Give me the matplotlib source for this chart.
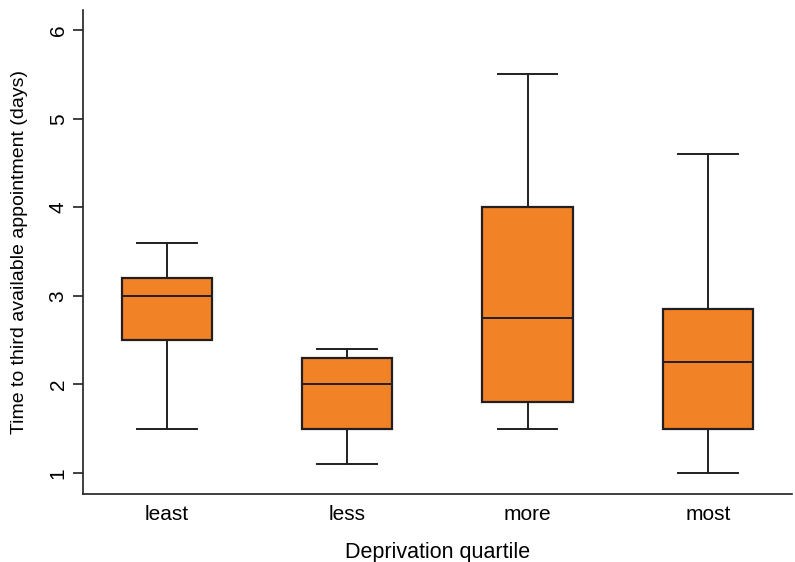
import matplotlib
matplotlib.use("Agg")
import matplotlib.pyplot as plt

plt.rcParams['font.family'] = ['Liberation Sans', 'DejaVu Sans']

categories = ["least", "less", "more", "most"]
whislo = [1.5, 1.1, 1.5, 1.0]
q1 = [2.5, 1.5, 1.8, 1.5]
med = [3.0, 2.0, 2.75, 2.25]
q3 = [3.2, 2.3, 4.0, 2.85]
whishi = [3.6, 2.4, 5.5, 4.6]

stats = [dict(label=c, whislo=a, q1=b, med=m, q3=d, whishi=e, fliers=[])
         for c, a, b, m, d, e in zip(categories, whislo, q1, med, q3, whishi)]

fig = plt.figure(figsize=(7.95, 5.62), dpi=100)
ax = fig.add_axes([0.1044, 0.121, 0.8916, 0.861])

lc = "#231f20"
ax.bxp(stats, positions=[1, 2, 3, 4], widths=0.5, patch_artist=True,
       showfliers=False,
       boxprops=dict(facecolor="#f28226", edgecolor=lc, linewidth=1.6),
       medianprops=dict(color=lc, linewidth=1.4),
       whiskerprops=dict(color=lc, linewidth=1.4),
       capprops=dict(color=lc, linewidth=1.4),
       capwidths=0.33)

ax.set_xlim(0.535, 4.465)
ax.set_ylim(0.763, 6.226)
ax.set_yticks([1, 2, 3, 4, 5, 6])
ax.set_xticks([1, 2, 3, 4])
ax.set_xticklabels(categories)
for lab in ax.get_yticklabels():
    lab.set_rotation(90)
    lab.set_va("center")
ax.tick_params(axis='y', labelsize=15, length=7, width=1.2, color=lc, pad=4)
ax.tick_params(axis='x', labelsize=15, length=0, pad=8)
for s in ["top", "right"]:
    ax.spines[s].set_visible(False)
for s in ["left", "bottom"]:
    ax.spines[s].set_color(lc)
    ax.spines[s].set_linewidth(1.2)

ax.set_ylabel("Time to third available appointment (days)", fontsize=14)
ax.set_xlabel("Deprivation quartile", fontsize=15.5)
ax.xaxis.set_label_coords(0.5, -0.121)
ax.xaxis.label.set_va("center")
ax.yaxis.set_label_coords(-0.089, 0.5)
ax.yaxis.label.set_va("center")

fig.savefig("out.png", dpi=100)
